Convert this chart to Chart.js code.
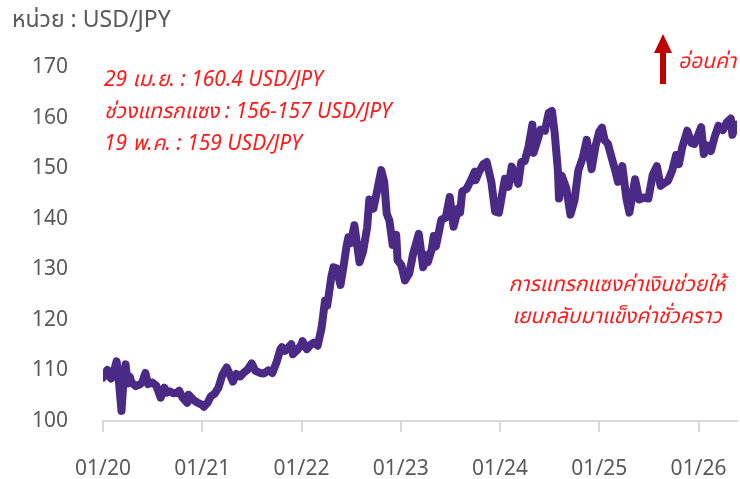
<!DOCTYPE html>
<html>
<head>
<meta charset="utf-8">
<script src="https://cdn.jsdelivr.net/npm/chart.js@4"></script>
<style>
  html, body { margin: 0; padding: 0; background: #fff; }
  #wrap { width: 740px; height: 479px; position: relative; }
</style>
</head>
<body>
<div id="wrap"><canvas id="fxChart" width="740" height="479"></canvas></div>
<script>
// USD/JPY (roughly twice a month, extra points at swings)
const dates = [
  '2020-01-01','2020-01-08','2020-01-17','2020-01-24','2020-01-31','2020-02-10','2020-02-20','2020-02-28','2020-03-09','2020-03-16','2020-03-24',
  '2020-04-01','2020-04-08','2020-04-15','2020-05-01','2020-05-15','2020-05-25','2020-06-05','2020-06-15','2020-07-01','2020-07-15','2020-07-31','2020-08-14',
  '2020-08-21','2020-08-31','2020-09-15','2020-09-30','2020-10-07','2020-10-20','2020-11-06','2020-11-11','2020-11-30','2020-12-15','2020-12-31',
  '2021-01-06','2021-01-20','2021-02-01','2021-02-15','2021-03-01','2021-03-15','2021-03-31','2021-04-15','2021-04-23','2021-05-05',
  '2021-05-20','2021-06-01','2021-06-15','2021-07-01','2021-07-15','2021-08-01','2021-08-15','2021-09-01','2021-09-15','2021-09-30',
  '2021-10-15','2021-10-20','2021-11-01','2021-11-24','2021-11-30','2021-12-15','2021-12-31',
  '2022-01-04','2022-01-20','2022-02-01','2022-02-15','2022-03-01','2022-03-15','2022-03-28','2022-04-05','2022-04-20','2022-04-28',
  '2022-05-09','2022-05-24','2022-06-06','2022-06-15','2022-06-22','2022-07-01','2022-07-14','2022-08-02','2022-08-15','2022-08-30',
  '2022-09-07','2022-09-22','2022-10-03','2022-10-21','2022-11-01','2022-11-10','2022-11-20','2022-12-02','2022-12-15','2022-12-20',
  '2023-01-03','2023-01-16','2023-02-01','2023-02-15','2023-03-08','2023-03-24','2023-04-03','2023-04-10','2023-04-25','2023-05-02','2023-05-10','2023-05-30',
  '2023-06-15','2023-06-30','2023-07-14','2023-07-31','2023-08-07','2023-08-15','2023-08-31','2023-09-15','2023-09-30','2023-10-03','2023-10-15','2023-11-01',
  '2023-11-13','2023-11-30','2023-12-14','2023-12-28',
  '2024-01-10','2024-01-19','2024-02-01','2024-02-13','2024-03-08','2024-03-19','2024-04-01','2024-04-15','2024-04-29','2024-05-03',
  '2024-05-15','2024-05-29','2024-06-14','2024-06-28','2024-07-10','2024-07-20','2024-08-01','2024-08-05','2024-08-15','2024-09-01',
  '2024-09-16','2024-10-01','2024-10-15','2024-11-01','2024-11-15','2024-12-03','2024-12-18','2024-12-31',
  '2025-01-10','2025-01-20','2025-02-01','2025-02-14','2025-02-28','2025-03-10','2025-03-26','2025-04-10','2025-04-21','2025-05-01',
  '2025-05-12','2025-05-27','2025-06-13','2025-06-30','2025-07-16','2025-07-31','2025-08-14','2025-08-29','2025-09-10','2025-09-26',
  '2025-10-10','2025-10-20','2025-11-01','2025-11-20','2025-12-05','2025-12-16','2025-12-31',
  '2026-01-10','2026-01-20','2026-02-01','2026-02-15','2026-03-01','2026-03-15','2026-03-31','2026-04-15','2026-04-29','2026-05-05',
  '2026-05-12','2026-05-19'
];
const usdJpy = [
  108.6, 109.3, 110.1, 109.0, 108.4, 109.8, 111.8, 108.2, 102.0, 107.5, 111.2,
  107.4, 108.8, 107.6, 106.9, 107.2, 107.7, 109.5, 107.3, 107.6, 107.0, 104.6, 106.6,
  105.6, 105.9, 105.5, 105.6, 106.0, 104.6, 103.6, 105.2, 104.1, 103.6, 103.2,
  102.8, 103.6, 104.9, 105.4, 106.6, 109.1, 110.6, 108.8, 107.8, 109.3,
  108.8, 109.5, 110.1, 111.4, 109.9, 109.5, 109.4, 110.0, 109.5, 111.5,
  114.2, 114.6, 113.9, 115.2, 113.2, 114.0, 115.1,
  115.8, 114.2, 115.0, 115.5, 114.9, 118.3, 123.8, 122.8, 128.4, 130.4,
  130.2, 126.9, 131.2, 134.5, 136.3, 135.2, 138.7, 131.4, 133.5, 138.3,
  143.8, 142.0, 144.8, 149.6, 147.2, 141.0, 139.6, 134.8, 136.8, 131.8,
  130.8, 127.8, 129.2, 133.0, 137.0, 130.4, 132.8, 131.4, 134.0, 136.6, 134.5, 139.8,
  140.2, 144.3, 138.4, 142.0, 141.2, 145.4, 145.9, 147.5, 149.3, 147.6, 149.2, 150.8,
  151.2, 147.3, 141.4, 141.2,
  145.2, 147.9, 146.3, 150.3, 146.9, 151.2, 151.4, 154.3, 158.6, 153.0,
  155.0, 157.6, 157.4, 160.9, 161.3, 157.0, 149.5, 144.0, 148.5, 146.0,
  140.8, 143.6, 149.5, 152.2, 155.6, 149.8, 154.5, 157.2,
  158.0, 155.5, 154.8, 152.2, 149.5, 147.3, 150.4, 144.0, 141.2, 144.4,
  147.8, 143.8, 144.2, 144.0, 148.7, 150.4, 146.5, 147.1, 147.5, 149.6,
  152.6, 150.8, 154.0, 157.4, 155.0, 154.8, 156.7,
  158.1, 152.8, 154.5, 153.4, 156.2, 158.4, 157.5, 159.1, 159.8, 156.6,
  157.8, 158.6
];
const xTickValues = [0, 1, 2, 3, 4, 5, 6];
const xTickLabels = ['01/20', '01/21', '01/22', '01/23', '01/24', '01/25', '01/26'];
const yTicks = [100, 110, 120, 130, 140, 150, 160, 170];

const notes = ['29 เม.ย. : 160.4 USD/JPY', 'ช่วงแทรกแซง : 156-157 USD/JPY', '19 พ.ค. : 159 USD/JPY'];
const comment = ['การแทรกแซงค่าเงินช่วยให้', 'เยนกลับมาแข็งค่าชั่วคราว'];

const fontFamily = '"Noto Sans", "Noto Sans Thai", Roboto, sans-serif';
const labelGray = '#595959';
const lineColor = '#4a2a85';
const noteRed = '#ff1a1a';

// years since 2020-01-01
function toYears(s) {
  const [y, m, d] = s.split('-').map(Number);
  return (Date.UTC(y, m - 1, d) - Date.UTC(2020, 0, 1)) / (365.25 * 864e5);
}

const points = dates.map((d, i) => ({ x: toYears(d), y: usdJpy[i] }));

const annotationPlugin = {
  id: 'notes',
  afterDraw(chart) {
    const ctx = chart.ctx;
    ctx.save();
    ctx.textBaseline = 'middle';

    // unit label
    ctx.fillStyle = labelGray;
    ctx.font = '23px ' + fontFamily;
    ctx.textAlign = 'left';
    ctx.fillText('หน่วย : USD/JPY', 12, 20);

    // red notes, top left
    ctx.fillStyle = noteRed;
    ctx.font = 'italic 21px ' + fontFamily;
    notes.forEach((t, i) => ctx.fillText(t, 104, 80 + i * 32));

    // comment, lower right
    ctx.textAlign = 'center';
    comment.forEach((t, i) => ctx.fillText(t, 617, 285 + i * 32));

    // arrow
    const ax = 663;
    ctx.fillStyle = '#c00000';
    ctx.fillRect(ax - 3, 50, 6, 34);
    ctx.beginPath();
    ctx.moveTo(ax, 34);
    ctx.lineTo(ax + 9, 53);
    ctx.lineTo(ax - 9, 53);
    ctx.closePath();
    ctx.fill();

    ctx.fillStyle = noteRed;
    ctx.textAlign = 'left';
    ctx.fillText('อ่อนค่า', 678, 62);
    ctx.restore();
  }
};

new Chart(document.getElementById('fxChart'), {
  type: 'line',
  data: {
    datasets: [{
      label: 'USD/JPY',
      data: points,
      borderColor: lineColor,
      borderWidth: 8,
      borderJoinStyle: 'round',
      borderCapStyle: 'round',
      pointRadius: 0,
      tension: 0,
      fill: false
    }]
  },
  options: {
    responsive: false,
    animation: false,
    events: [],
    layout: {
      padding: { top: 67, right: 3, bottom: 2, left: 0 }
    },
    scales: {
      x: {
        type: 'linear',
        min: 0,
        max: toYears('2026-05-22'),
        afterBuildTicks: (scale) => {
          scale.ticks = xTickValues.map(v => ({ value: v }));
        },
        afterFit: (scale) => {
          scale.height = 56;
          scale.paddingLeft = 0;
          scale.paddingRight = 0;
        },
        border: { display: true, color: '#d9d9d9', width: 2 },
        grid: {
          drawOnChartArea: false,
          drawTicks: true,
          tickLength: 11,
          color: '#d9d9d9',
          lineWidth: 2
        },
        ticks: {
          color: labelGray,
          font: { family: fontFamily, size: 21 },
          padding: 24,
          maxRotation: 0,
          autoSkip: false,
          callback: (v) => xTickLabels[xTickValues.indexOf(v)] || ''
        }
      },
      y: {
        min: yTicks[0],
        max: yTicks[yTicks.length - 1],
        afterFit: (scale) => { scale.width = 103; },
        afterBuildTicks: (scale) => {
          scale.ticks = yTicks.map(v => ({ value: v }));
        },
        border: { display: false },
        grid: { display: false, drawTicks: false },
        ticks: {
          color: labelGray,
          font: { family: fontFamily, size: 21 },
          padding: 35
        }
      }
    },
    plugins: {
      legend: { display: false },
      tooltip: { enabled: false }
    }
  },
  plugins: [annotationPlugin]
});
</script>
</body>
</html>
